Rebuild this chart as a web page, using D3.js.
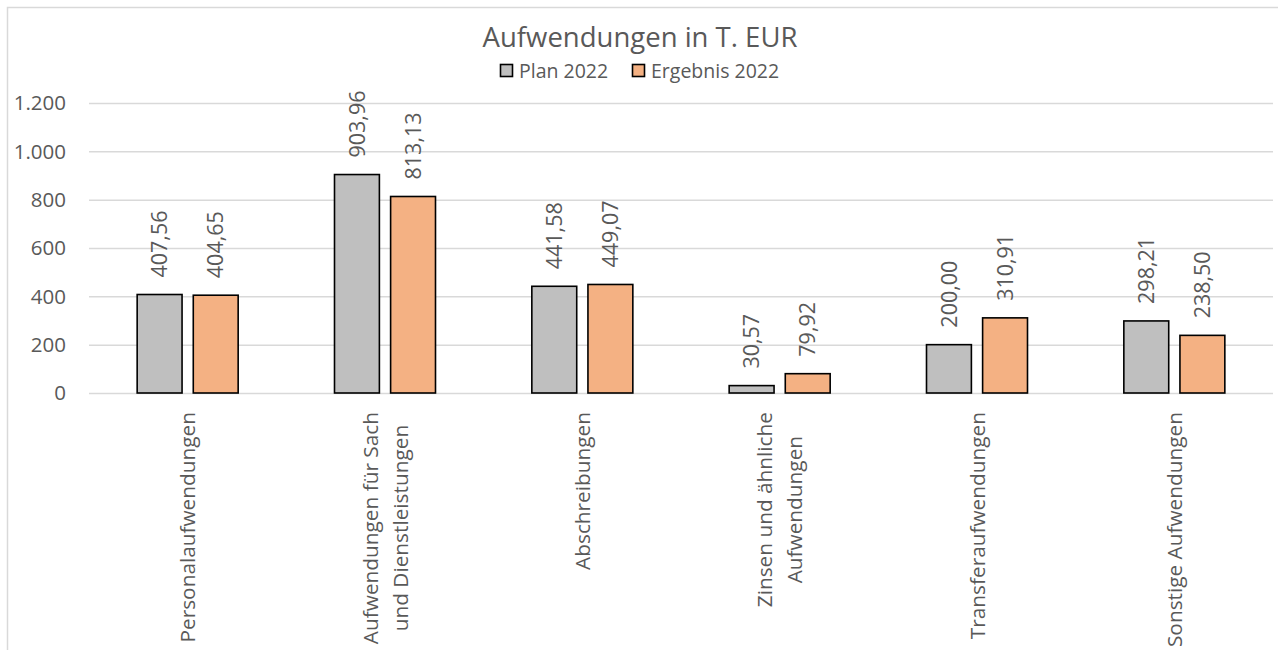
<!DOCTYPE html>
<html lang="de">
<head>
<meta charset="utf-8">
<title>Aufwendungen in T. EUR</title>
<script src="https://d3js.org/d3.v7.min.js"></script>
<style>
    body { margin: 0; background: #fff; }
    svg text { font-family: "Open Sans", sans-serif; fill: #595959; }
    .grid line { stroke: #d9d9d9; stroke-width: 1.5; }
    .grid path { display: none; }
</style>
</head>
<body>
<svg width="1278" height="650"></svg>
<script>
// chart data
var categories = [
    ["Personalaufwendungen"],
    ["Aufwendungen für Sach", "und Dienstleistungen"],
    ["Abschreibungen"],
    ["Zinsen und ähnliche", "Aufwendungen"],
    ["Transferaufwendungen"],
    ["Sonstige Aufwendungen"]
];
var seriesNames = ["Plan 2022", "Ergebnis 2022"];
var plan2022 = [407.56, 903.96, 441.58, 30.57, 200.00, 298.21];
var ergebnis2022 = [404.65, 813.13, 449.07, 79.92, 310.91, 238.50];
var yTicks = [0, 200, 400, 600, 800, 1000, 1200];
var colors = ["#bfbfbf", "#f4b183"];

var svg = d3.select("svg");

// chart border (bottom runs past the window)
svg.append("rect")
    .attr("x", 7.5).attr("y", 7.5)
    .attr("width", 1290).attr("height", 700)
    .attr("fill", "none")
    .attr("stroke", "#d9d9d9")
    .attr("stroke-width", 1.5);

var keys = categories.map(function(c) { return c.join(" "); });

var x0 = d3.scaleBand()
    .domain(keys)
    .range([89, 1273]);

var half = 50.5;
var x1 = d3.scaleBand()
    .domain(seriesNames)
    .range([x0.bandwidth() / 2 - half, x0.bandwidth() / 2 + half])
    .paddingInner(0.2);

var y = d3.scaleLinear()
    .domain([0, 1200])
    .range([393, 103]);

var fmt = d3.formatLocale({ decimal: ",", thousands: ".", grouping: [3], currency: ["", "€"] });
var tickFmt = fmt.format(",.0f");
var valFmt = fmt.format(".2f");

// gridlines
svg.append("g")
    .attr("class", "grid")
    .attr("transform", "translate(89,0)")
    .call(d3.axisLeft(y).tickValues(yTicks).tickSize(-(1273 - 89)).tickFormat(""));

// y tick labels
svg.append("g").selectAll("text")
    .data(yTicks)
    .enter().append("text")
    .attr("x", 66)
    .attr("y", function(d) { return y(d); })
    .attr("dy", "0.36em")
    .attr("text-anchor", "end")
    .style("font-size", "20.5px")
    .text(function(d) { return tickFmt(d); });

// rows per category
var rows = keys.map(function(k, i) {
    return { key: k, values: [plan2022[i], ergebnis2022[i]] };
});

var groups = svg.append("g").selectAll("g")
    .data(rows)
    .enter().append("g")
    .attr("transform", function(d) { return "translate(" + x0(d.key) + ",0)"; });

var bars = groups.selectAll("g")
    .data(function(d) {
        return seriesNames.map(function(s, j) { return { name: s, value: d.values[j], idx: j }; });
    })
    .enter().append("g");

bars.append("rect")
    .attr("x", function(d) { return x1(d.name); })
    .attr("y", function(d) { return y(d.value); })
    .attr("width", x1.bandwidth())
    .attr("height", function(d) { return y(0) - y(d.value); })
    .attr("fill", function(d) { return colors[d.idx]; })
    .attr("stroke", "#000")
    .attr("stroke-width", 1.6);

// value labels, rotated
bars.append("text")
    .attr("transform", function(d) {
        return "translate(" + (x1(d.name) + x1.bandwidth() / 2) + "," + (y(d.value) - 17) + ") rotate(-90)";
    })
    .attr("dy", "0.36em")
    .attr("text-anchor", "start")
    .style("font-size", "21.5px")
    .text(function(d) { return valFmt(d.value); });

// category labels, rotated, lines centred inside a block hanging from the axis
var lineH = 30;
categories.forEach(function(lines, i) {
    var cx = x0(keys[i]) + x0.bandwidth() / 2;
    var g = svg.append("g");
    var texts = lines.map(function(t, j) {
        return g.append("text")
            .style("font-size", "20.8px")
            .attr("text-anchor", "middle")
            .attr("dy", "0.36em")
            .text(t);
    });
    var maxW = d3.max(texts, function(t) { return t.node().getComputedTextLength(); });
    var cy = 412 + maxW / 2;
    texts.forEach(function(t, j) {
        var off = (j - (lines.length - 1) / 2) * lineH;
        t.attr("transform", "translate(" + (cx + off) + "," + cy + ") rotate(-90)");
    });
});

// title
svg.append("text")
    .attr("x", 640)
    .attr("y", 47)
    .attr("text-anchor", "middle")
    .style("font-size", "27.5px")
    .text("Aufwendungen in T. EUR");

// legend
var legendX = [500, 632];
var legend = svg.append("g").selectAll("g")
    .data(seriesNames)
    .enter().append("g")
    .attr("transform", function(d, i) { return "translate(" + legendX[i] + ",71)"; });

legend.append("rect")
    .attr("x", 0.5).attr("y", -6.5)
    .attr("width", 12).attr("height", 12)
    .attr("fill", function(d, i) { return colors[i]; })
    .attr("stroke", "#000")
    .attr("stroke-width", 1.6);

legend.append("text")
    .attr("x", 19)
    .attr("dy", "0.36em")
    .style("font-size", "19.5px")
    .text(function(d) { return d; });
</script>
</body>
</html>
